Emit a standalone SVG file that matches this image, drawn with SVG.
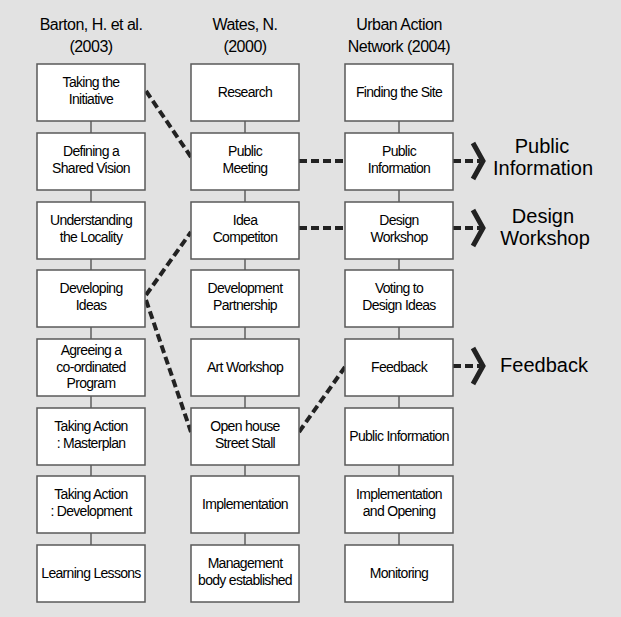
<svg xmlns="http://www.w3.org/2000/svg" width="621" height="617" viewBox="0 0 621 617">
<style>
.bg{fill:#e2e2e2}
.box{fill:#ffffff;stroke:#5a5a5a;stroke-width:1.5}
.t{font-family:"Liberation Sans",Arial,sans-serif;font-size:14px;letter-spacing:-0.7px;fill:#000;text-anchor:middle}
.h{font-family:"Liberation Sans",Arial,sans-serif;font-size:16px;letter-spacing:-0.5px;fill:#000;text-anchor:middle}
.big{font-family:"Liberation Sans",Arial,sans-serif;font-size:20px;fill:#000;text-anchor:middle}
.link{stroke:#808080;stroke-width:2;fill:none}
.dash{stroke:#222;stroke-width:4;stroke-dasharray:8 4;fill:none}
.chev{stroke:#222;stroke-width:5;fill:none;stroke-linejoin:miter}
</style>
<rect class="bg" x="0" y="0" width="621" height="617"/>
<g id="headers">
<text class="h" x="91" y="30">Barton, H. et al.</text>
<text class="h" x="91" y="52">(2003)</text>
<text class="h" x="245" y="30">Wates, N.</text>
<text class="h" x="245" y="52">(2000)</text>
<text class="h" x="399" y="30">Urban Action</text>
<text class="h" x="399" y="52">Network (2004)</text>
</g>
<g id="connectors">
<path class="link" d="M91 121V133M91 190V202M91 259V270M91 327V339M91 396V408M91 465V476M91 533V545"/>
<path class="link" d="M245 121V133M245 190V202M245 259V270M245 327V339M245 396V408M245 465V476M245 533V545"/>
<path class="link" d="M399 121V133M399 190V202M399 259V270M399 327V339M399 396V408M399 465V476M399 533V545"/>
<path class="dash" d="M146 91L191 157"/>
<path class="dash" d="M299 161H345"/>
<path class="dash" d="M453 161H480"/>
<path class="chev" d="M473 143L483 161L473 179"/>
<path class="dash" d="M146 295L191 232"/>
<path class="dash" d="M299 228H345"/>
<path class="dash" d="M453 228H480"/>
<path class="chev" d="M473 210L483 228L473 246"/>
<path class="dash" d="M146 300L191 432"/>
<path class="dash" d="M299 432L345 367"/>
<path class="dash" d="M453 366H480"/>
<path class="chev" d="M473 348L483 366L473 384"/>
</g>
<g id="c1r1"><rect class="box" x="37" y="64" width="108" height="57"/><text class="t" x="91" y="87">Taking the</text><text class="t" x="91" y="104">Initiative</text></g>
<g id="c1r2"><rect class="box" x="37" y="133" width="108" height="57"/><text class="t" x="91" y="156">Defining a</text><text class="t" x="91" y="173">Shared Vision</text></g>
<g id="c1r3"><rect class="box" x="37" y="202" width="108" height="57"/><text class="t" x="91" y="225">Understanding</text><text class="t" x="91" y="242">the Locality</text></g>
<g id="c1r4"><rect class="box" x="37" y="270" width="108" height="57"/><text class="t" x="91" y="293">Developing</text><text class="t" x="91" y="310">Ideas</text></g>
<g id="c1r5"><rect class="box" x="37" y="339" width="108" height="57"/><text class="t" x="91" y="355">Agreeing a</text><text class="t" x="91" y="372">co-ordinated</text><text class="t" x="91" y="388">Program</text></g>
<g id="c1r6"><rect class="box" x="37" y="408" width="108" height="57"/><text class="t" x="91" y="431">Taking Action</text><text class="t" x="91" y="448">: Masterplan</text></g>
<g id="c1r7"><rect class="box" x="37" y="476" width="108" height="57"/><text class="t" x="91" y="499">Taking Action</text><text class="t" x="91" y="516">: Development</text></g>
<g id="c1r8"><rect class="box" x="37" y="545" width="108" height="57"/><text class="t" x="91" y="578">Learning Lessons</text></g>
<g id="c2r1"><rect class="box" x="191" y="64" width="108" height="57"/><text class="t" x="245" y="97">Research</text></g>
<g id="c2r2"><rect class="box" x="191" y="133" width="108" height="57"/><text class="t" x="245" y="156">Public</text><text class="t" x="245" y="173">Meeting</text></g>
<g id="c2r3"><rect class="box" x="191" y="202" width="108" height="57"/><text class="t" x="245" y="225">Idea</text><text class="t" x="245" y="242">Competiton</text></g>
<g id="c2r4"><rect class="box" x="191" y="270" width="108" height="57"/><text class="t" x="245" y="293">Development</text><text class="t" x="245" y="310">Partnership</text></g>
<g id="c2r5"><rect class="box" x="191" y="339" width="108" height="57"/><text class="t" x="245" y="372">Art Workshop</text></g>
<g id="c2r6"><rect class="box" x="191" y="408" width="108" height="57"/><text class="t" x="245" y="431">Open house</text><text class="t" x="245" y="448">Street Stall</text></g>
<g id="c2r7"><rect class="box" x="191" y="476" width="108" height="57"/><text class="t" x="245" y="509">Implementation</text></g>
<g id="c2r8"><rect class="box" x="191" y="545" width="108" height="57"/><text class="t" x="245" y="568">Management</text><text class="t" x="245" y="585">body established</text></g>
<g id="c3r1"><rect class="box" x="345" y="64" width="108" height="57"/><text class="t" x="399" y="97">Finding the Site</text></g>
<g id="c3r2"><rect class="box" x="345" y="133" width="108" height="57"/><text class="t" x="399" y="156">Public</text><text class="t" x="399" y="173">Information</text></g>
<g id="c3r3"><rect class="box" x="345" y="202" width="108" height="57"/><text class="t" x="399" y="225">Design</text><text class="t" x="399" y="242">Workshop</text></g>
<g id="c3r4"><rect class="box" x="345" y="270" width="108" height="57"/><text class="t" x="399" y="293">Voting to</text><text class="t" x="399" y="310">Design Ideas</text></g>
<g id="c3r5"><rect class="box" x="345" y="339" width="108" height="57"/><text class="t" x="399" y="372">Feedback</text></g>
<g id="c3r6"><rect class="box" x="345" y="408" width="108" height="57"/><text class="t" x="399" y="441">Public Information</text></g>
<g id="c3r7"><rect class="box" x="345" y="476" width="108" height="57"/><text class="t" x="399" y="499">Implementation</text><text class="t" x="399" y="516">and Opening</text></g>
<g id="c3r8"><rect class="box" x="345" y="545" width="108" height="57"/><text class="t" x="399" y="578">Monitoring</text></g>
<g id="outcomes">
<text class="big" x="542" y="153">Public</text>
<text class="big" x="543" y="175">Information</text>
<text class="big" x="543" y="223">Design</text>
<text class="big" x="545" y="245">Workshop</text>
<text class="big" x="544" y="372">Feedback</text>
</g>
</svg>
